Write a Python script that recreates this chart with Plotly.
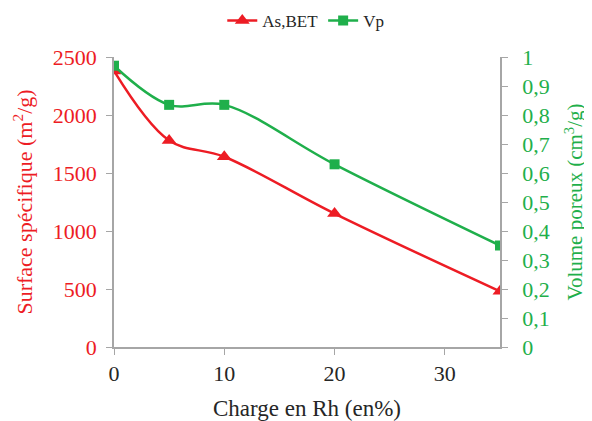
import plotly.graph_objects as go

charge = [0, 5, 10, 20, 35]
as_bet = [2380, 1780, 1640, 1150, 480]
vp = [0.97, 0.835, 0.835, 0.63, 0.35]

x_ticks = [0, 10, 20, 30]
y1_ticks = [0, 500, 1000, 1500, 2000, 2500]
y2_ticks = [0, 0.1, 0.2, 0.3, 0.4, 0.5, 0.6, 0.7, 0.8, 0.9, 1]
y2_labels = ["0", "0,1", "0,2", "0,3", "0,4", "0,5", "0,6", "0,7", "0,8", "0,9", "1"]

RED = "#ED1C24"
GREEN = "#1FAF4B"
AXIS = "#A6A6A6"
TXT = "#262626"
FONT = "Times New Roman, Liberation Serif, serif"

fig = go.Figure()
fig.add_trace(go.Scatter(
    x=charge, y=as_bet, name="As,BET", mode="lines+markers",
    line=dict(color=RED, width=2.5, shape="spline", smoothing=1),
    marker=dict(symbol="triangle-up", size=13, color=RED),
    yaxis="y",
))
fig.add_trace(go.Scatter(
    x=charge, y=vp, name="Vp", mode="lines+markers",
    line=dict(color=GREEN, width=2.5, shape="spline", smoothing=1),
    marker=dict(symbol="square", size=10, color=GREEN),
    yaxis="y2",
))

fig.update_layout(
    width=592, height=421,
    margin=dict(l=106, r=100, t=49, b=82, autoexpand=False),
    paper_bgcolor="white", plot_bgcolor="white",
    font=dict(family=FONT, size=21, color=TXT),
    showlegend=True,
    legend=dict(orientation="h", x=0.503, xanchor="center", xref="container",
                y=0.969, yanchor="middle", yref="container",
                font=dict(family=FONT, size=17, color=TXT), tracegroupgap=0),
    xaxis=dict(
        range=[0, 35], tickvals=x_ticks, showgrid=False, zeroline=False,
        showline=True, linecolor=AXIS, linewidth=1.5, automargin=False,
        ticks="outside", ticklen=6, tickcolor=AXIS,
        tickfont=dict(family=FONT, size=22, color=TXT),
        title=dict(text="Charge en Rh (en%)", font=dict(family=FONT, size=23, color=TXT), standoff=15),
    ),
    yaxis=dict(
        range=[0, 2500], tickvals=y1_ticks, showgrid=False, zeroline=False,
        showline=True, linecolor=AXIS, linewidth=1.5, automargin=False,
        ticks="outside", ticklen=6, tickcolor=AXIS, ticklabelstandoff=5,
        tickfont=dict(family=FONT, size=22, color=RED),
        title=dict(text="Surface spécifique (m<sup>2</sup>/g)", font=dict(family=FONT, size=22, color=RED), standoff=14),
    ),
    yaxis2=dict(
        range=[0, 1], overlaying="y", side="right", anchor="x",
        tickvals=y2_ticks, ticktext=y2_labels, showgrid=False, zeroline=False,
        showline=True, linecolor=AXIS, linewidth=1.5, automargin=False,
        ticks="outside", ticklen=6, tickcolor=AXIS, ticklabelstandoff=10,
        tickfont=dict(family=FONT, size=22, color=GREEN),
        title=dict(text="Volume poreux (cm<sup>3</sup>/g)", font=dict(family=FONT, size=21, color=GREEN), standoff=19),
    ),
)

fig.write_html("out.html")
